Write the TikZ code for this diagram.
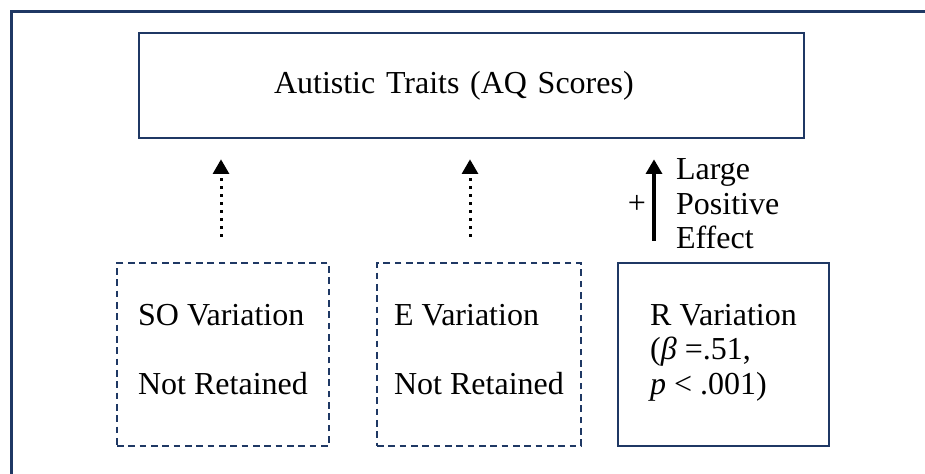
\documentclass[tikz,border=0pt]{standalone}
\usepackage{fontspec}
\setmainfont{Liberation Serif}
\usetikzlibrary{arrows.meta}
\definecolor{navyline}{HTML}{1F3864}
\tikzset{
  bigtext/.style={font=\fontsize{24}{26}\selectfont},
  varbox/.style={bigtext, draw=navyline, line width=2pt, align=left},
  droppedbox/.style={varbox, line width=1.6pt, dash pattern=on 5pt off 3.5pt},
  dotarrow/.style={line width=2.25pt, dash pattern=on 2.25pt off 3.75pt,
    -{Triangle[width=12pt,length=11pt]}, shorten <=18.75pt, shorten >=15pt},
  effectarrow/.style={line width=2.5pt,
    -{Triangle[width=12pt,length=11pt]}, shorten <=15.75pt, shorten >=15pt}
}
\begin{document}
\begin{tikzpicture}[x=0.75pt, y=0.75pt]
	  \useasboundingbox (0,0) rectangle (925,474);
	  % frame runs off the page at right and bottom
	  \draw[navyline, line width=2.25pt] (11,462.5) rectangle (960,-30);
	  \node[varbox, minimum width=498.75pt, minimum height=78.75pt, text width=296.25pt] (traits) at (471.5,388.5) {Autistic Traits (AQ Scores)};
	  \node[droppedbox, minimum width=159pt, minimum height=137.25pt] (sovar) at (223,119.5) {SO Variation\\[26pt]Not Retained\strut};
	  \node[droppedbox, minimum width=153pt, minimum height=137.25pt] (evar) at (479,119.5) {E Variation\\[26pt]Not Retained\strut};
	  \node[varbox, minimum width=158.25pt, minimum height=137.25pt] (rvar) at (723.5,119.5) {R Variation\\(\textit{β} =.51,\\\textit{p} < .001)\strut};
	  \coordinate (soX) at (221,0);
	  \coordinate (eX) at (470,0);
	  \coordinate (rX) at (654,0);
	  \draw[dotarrow] (sovar.north -| soX) -- (traits.south -| soX);
	  \draw[dotarrow] (evar.north -| eX) -- (traits.south -| eX);
	  \draw[effectarrow] (rvar.north -| rX) -- node[bigtext, left=1.5pt, yshift=-3pt]{+} node[bigtext, right=12pt, yshift=-2.5pt, align=left]{Large\\Positive\\Effect} (traits.south -| rX);
	\end{tikzpicture}
\end{document}
